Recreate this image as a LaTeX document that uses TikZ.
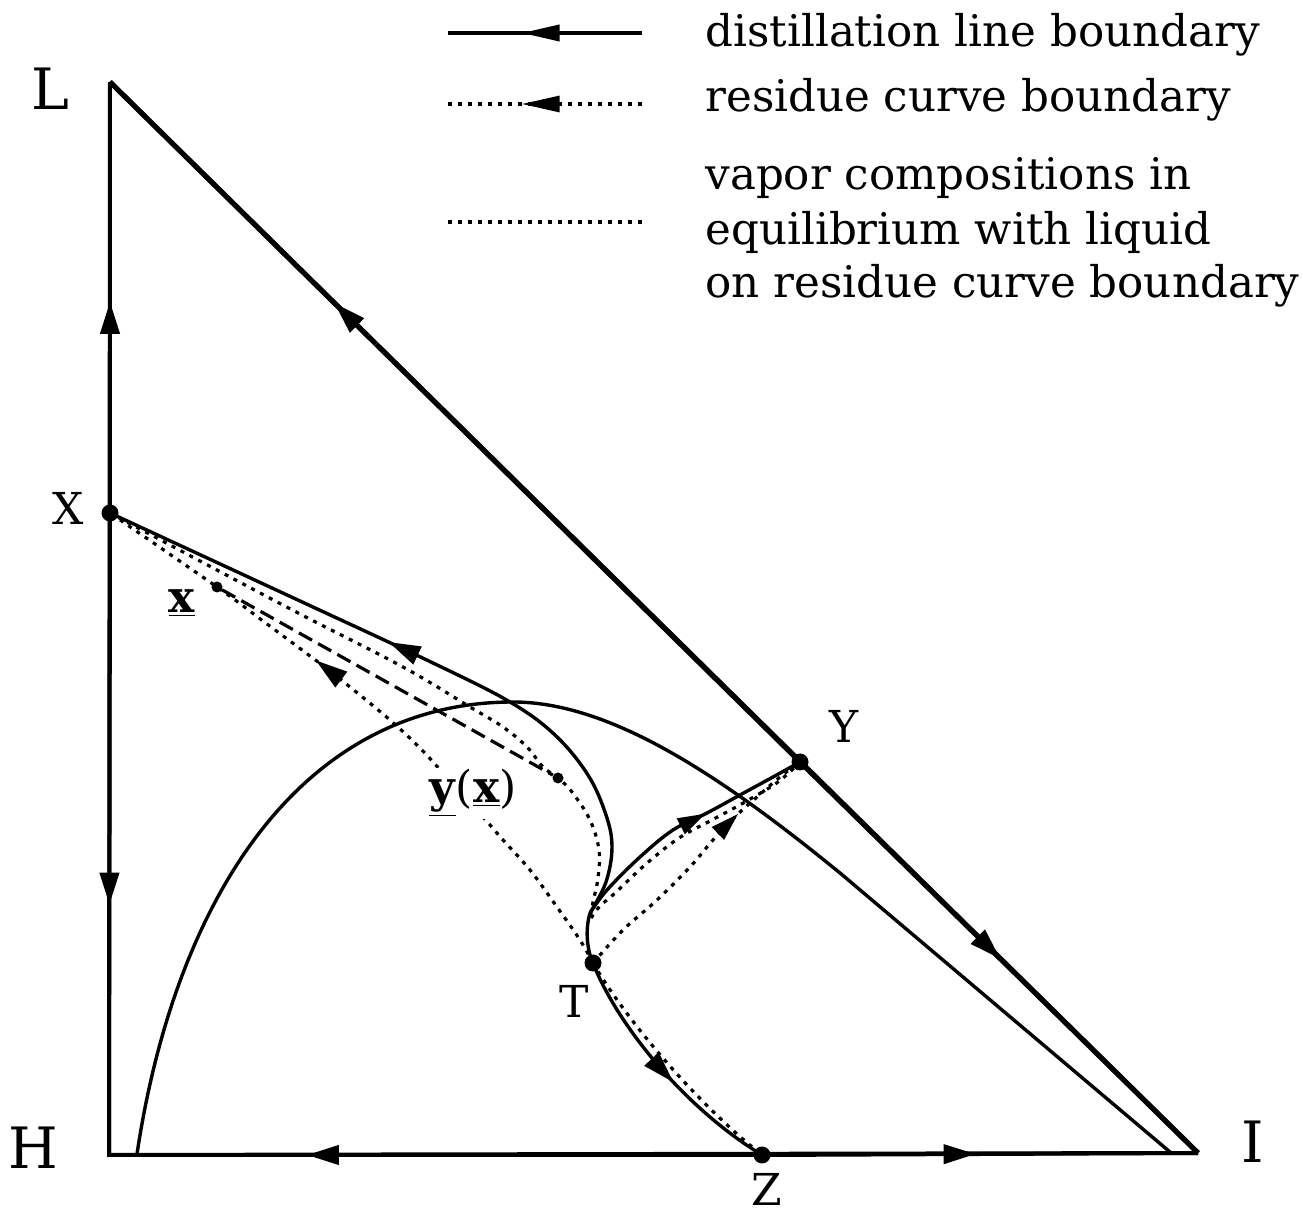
\documentclass[tikz,border=0pt]{standalone}
\usepackage{fontspec}
\setmainfont{DejaVu Serif}
\usetikzlibrary{arrows.meta,decorations.markings}
\tikzset{
  triedge/.style={line width=2pt},
  hypedge/.style={line width=2.5pt},
  curve/.style={line width=1.7pt},
  dotline/.style={line width=1.6pt, dash pattern=on 2pt off 3pt},
  tieline/.style={line width=1.6pt, dash pattern=on 7.5pt off 3.5pt},
  arrowat/.style={postaction={decorate,decoration={markings,mark=at position #1 with {\arrow{Triangle[length=16pt,width=9.5pt]}}}}},
  smallarrowat/.style={postaction={decorate,decoration={markings,mark=at position #1 with {\arrow{Triangle[length=14pt,width=8.5pt]}}}}},
  legarrowat/.style={postaction={decorate,decoration={markings,mark=at position #1 with {\arrow{Triangle[length=19pt,width=8pt]}}}}},
  ptdot/.style={circle,fill=black,inner sep=0pt,minimum size=8.5pt},
  smalldot/.style={circle,fill=black,inner sep=0pt,minimum size=5.5pt},
  vlabel/.style={font=\fontsize{28.5}{34}\selectfont, anchor=base, inner sep=0pt},
  plabel/.style={font=\fontsize{22}{26}\selectfont, anchor=base, inner sep=0pt},
  legtext/.style={font=\fontsize{21.8}{26}\selectfont, anchor=base west, inner sep=0pt},
}
\begin{document}
\begin{tikzpicture}[x=0.5pt,y=-0.5pt]
\useasboundingbox (0,0) rectangle (1303,1213);
% points
\coordinate (L) at (110,82);
\coordinate (H) at (109,1155);
\coordinate (I) at (1198,1153);
\coordinate (C) at (590,913);
\node[ptdot] (X) at (110,513) {};
\node[ptdot] (Y) at (800,762) {};
\node[ptdot] (Z) at (762,1155) {};
\node[ptdot] (T) at (593,963) {};
\node[smalldot] (xp) at (217,587) {};
\node[smalldot] (yx) at (558,778) {};
% triangle
\draw[triedge, line join=miter] (L) -- (H) -- (I);
\draw[hypedge] (L) -- (I);
\draw[triedge, arrowat=0.49] (X.center) -- (L);
\draw[triedge, arrowat=0.61] (X.center) -- (H);
\draw[triedge, arrowat=0.697] (Z.center) -- (H);
\draw[triedge, arrowat=0.49] (Z.center) -- (I);
\draw[hypedge, arrowat=0.675] (Y.center) -- (L);
\draw[hypedge, arrowat=0.504] (Y.center) -- (I);
% arch
\coordinate (archA) at (137,1154);
\coordinate (archP) at (513,702);
\coordinate (archB) at (840,873);
\coordinate (archE) at (1170,1152);
\draw[curve] (archA) .. controls (175,900) and (300,702) .. (archP)
  .. controls (610,702) and (720,775) .. (archB) -- (archE);
% distillation line boundary
\draw[curve, arrowat=0.56] plot[smooth, tension=0.6] coordinates {(C) (606,882) (612,847) (606,815) (588,775) (555,735) (510,702) (433,663) (300,601) (X.center)};
\draw[curve, arrowat=0.63] (C) .. controls (585,930) and (587,950) .. (T.center)
  .. controls (615,1020) and (680,1105) .. (Z.center);
\draw[curve, smallarrowat=0.59] plot[smooth, tension=0.6] coordinates {(C) (607,890) (640,857) (673,830) (707,813) (740,795) (773,777) (Y.center)};
% residue curve boundary
\draw[dotline, arrowat=0.62] plot[smooth, tension=0.6] coordinates {(T.center) (580,940) (557,907) (530,870) (503,840) (483,817) (443,773) (420,748) (390,720) (350,687) (318,662) (267,624) (xp.center) (X.center)};
\draw[dotline, smallarrowat=0.72] plot[smooth, tension=0.6] coordinates {(T.center) (623,930) (657,900) (690,867) (713,840) (737,815) (757,797) (780,777) (Y.center)};
\draw[dotline] (T.center) .. controls (625,1018) and (695,1102) .. (Z.center);
% vapor compositions
\draw[dotline] plot[smooth, tension=0.6] coordinates {(X.center) (200,561) (300,614) (403,667) (470,707) (503,727) (527,747) (543,767) (yx.center) (572,792) (590,820) (599,850) (598,878) (593,902) (590,918)};
\draw[dotline] plot[smooth, tension=0.6] coordinates {(591,918) (600,906) (614,894) (646,864) (679,838) (712,820) (745,802) (778,782) (Y.center)};
% tie line
\draw[tieline] (xp) -- (yx);
% labels
\node[vlabel] (lblL) at (50,110) {L};
\node[vlabel] (lblH) at (33,1168) {H};
\node[vlabel] (lblI) at (1253,1163) {I};
\node[plabel] (lblX) at (68,525) {X};
\node[plabel] (lblY) at (844,743) {Y};
\node[plabel] (lblT) at (574,1018) {T};
\node[plabel] (lblZ) at (767,1205) {Z};
\node[plabel] (lblx) at (182,613) {\underline{\textbf{x}}};
\node[plabel, fill=white, inner sep=1pt] (lblyx) at (473,803) {\underline{\textbf{y}}(\underline{\textbf{x}})};
% legend
\coordinate (la1) at (448,33); \coordinate (lb1) at (642,33);
\coordinate (la2) at (448,104); \coordinate (lb2) at (642,104);
\coordinate (la3) at (448,222); \coordinate (lb3) at (642,222);
\draw[triedge, legarrowat=0.62] (lb1) -- (la1);
\draw[dotline, legarrowat=0.62] (lb2) -- (la2);
\draw[dotline] (la3) -- (lb3);
\node[legtext] (lt1) at (705,47) {distillation line boundary};
\node[legtext] (lt2) at (705,112) {residue curve boundary};
\node[legtext] (lt3) at (705,190) {vapor compositions in};
\node[legtext] (lt4) at (705,245) {equilibrium with liquid};
\node[legtext] (lt5) at (705,298) {on residue curve boundary};
\end{tikzpicture}
\end{document}
